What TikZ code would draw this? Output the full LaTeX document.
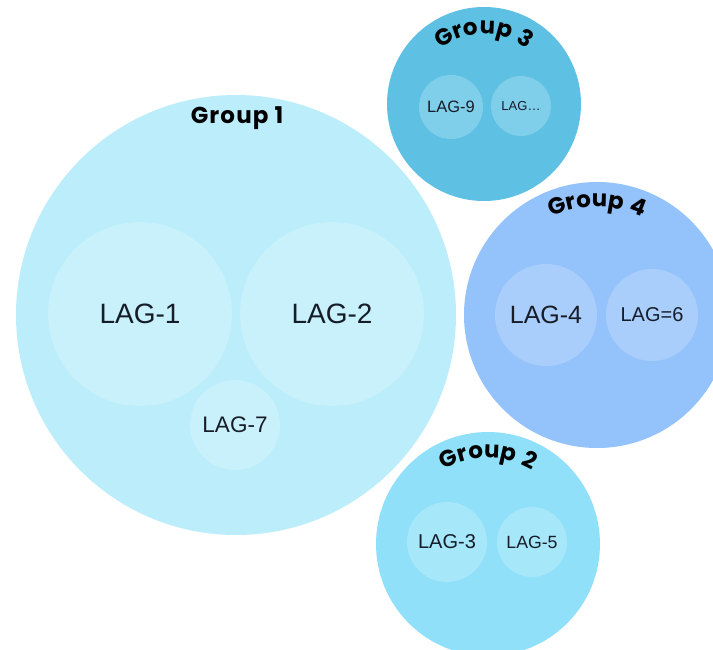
\documentclass[tikz,border=0pt]{standalone}
\usepackage{fontspec}
\setmainfont{Liberation Sans}
\newfontfamily\poppins{Poppins}[LetterSpace=5]
\usetikzlibrary{decorations.text}
\definecolor{gone}{HTML}{BCEDFB}
\definecolor{goneIn}{HTML}{C8F1FC}
\definecolor{gthree}{HTML}{5EC0E2}
\definecolor{gthreeIn}{HTML}{7FCEEA}
\definecolor{gfour}{HTML}{94C2FA}
\definecolor{gfourIn}{HTML}{AACEFB}
\definecolor{gtwo}{HTML}{8FE0F8}
\definecolor{gtwoIn}{HTML}{A7E7FA}
\definecolor{lagtext}{HTML}{161C28}
\newcommand\grpfont{\poppins\bfseries\fontsize{23}{26}\selectfont}
\begin{document}
\begin{tikzpicture}[x=1pt,y=1pt,
  group/.style={circle,inner sep=0pt,draw=none},
  lag/.style={circle,inner sep=0pt,draw=none,text=lagtext},
  grouplabel/.style={decorate,decoration={text along path,text align=center,
    text={|\grpfont|#1}}}]
\useasboundingbox[fill=white] (0,0) rectangle (713,-650);
% groups
\node[group,fill=gone,minimum size=440pt] (g1) at (236,-315) {};
\node[group,fill=gthree,minimum size=194pt] (g3) at (484,-104) {};
\node[group,fill=gfour,minimum size=266pt] (g4) at (597,-315) {};
\node[group,fill=gtwo,minimum size=224pt] (g2) at (488,-544) {};
% group 1 members
\node[lag,fill=goneIn,minimum size=184pt,font=\fontsize{28}{30}\selectfont] (l1) at (140,-314) {LAG-1};
\node[lag,fill=goneIn,minimum size=184pt,font=\fontsize{28}{30}\selectfont] (l2) at (332,-314) {LAG-2};
\node[lag,fill=goneIn,minimum size=90pt,font=\fontsize{22.5}{25}\selectfont] (l7) at (235,-425) {LAG-7};
% group 3 members
\node[lag,fill=gthreeIn,minimum size=64pt,font=\fontsize{16.5}{18}\selectfont] (l9) at (451,-107) {LAG-9};
\node[lag,fill=gthreeIn,minimum size=60pt,font=\fontsize{13}{15}\selectfont] (lx) at (521,-106) {LAG…};
% group 4 members
\node[lag,fill=gfourIn,minimum size=102pt,font=\fontsize{25}{27}\selectfont] (l4) at (546,-315) {LAG-4};
\node[lag,fill=gfourIn,minimum size=92pt,font=\fontsize{20}{22}\selectfont] (l6) at (652,-315) {LAG=6};
% group 2 members
\node[lag,fill=gtwoIn,minimum size=80pt,font=\fontsize{20}{22}\selectfont] (l3) at (447,-542) {LAG-3};
\node[lag,fill=gtwoIn,minimum size=70pt,font=\fontsize{17.7}{20}\selectfont] (l5) at (532,-542) {LAG-5};
% labels
\node[anchor=base,inner sep=0pt,font=\grpfont] (t1) at (237,-124) {Group 1};
\path[grouplabel={Group 3}] (g3.center) ++(150:70) arc[start angle=150,end angle=30,radius=70];
\path[grouplabel={Group 4}] (g4.center) ++(145:108) arc[start angle=145,end angle=35,radius=108];
\path[grouplabel={Group 2}] (g2.center) ++(150:86) arc[start angle=150,end angle=30,radius=86];
\end{tikzpicture}
\end{document}
